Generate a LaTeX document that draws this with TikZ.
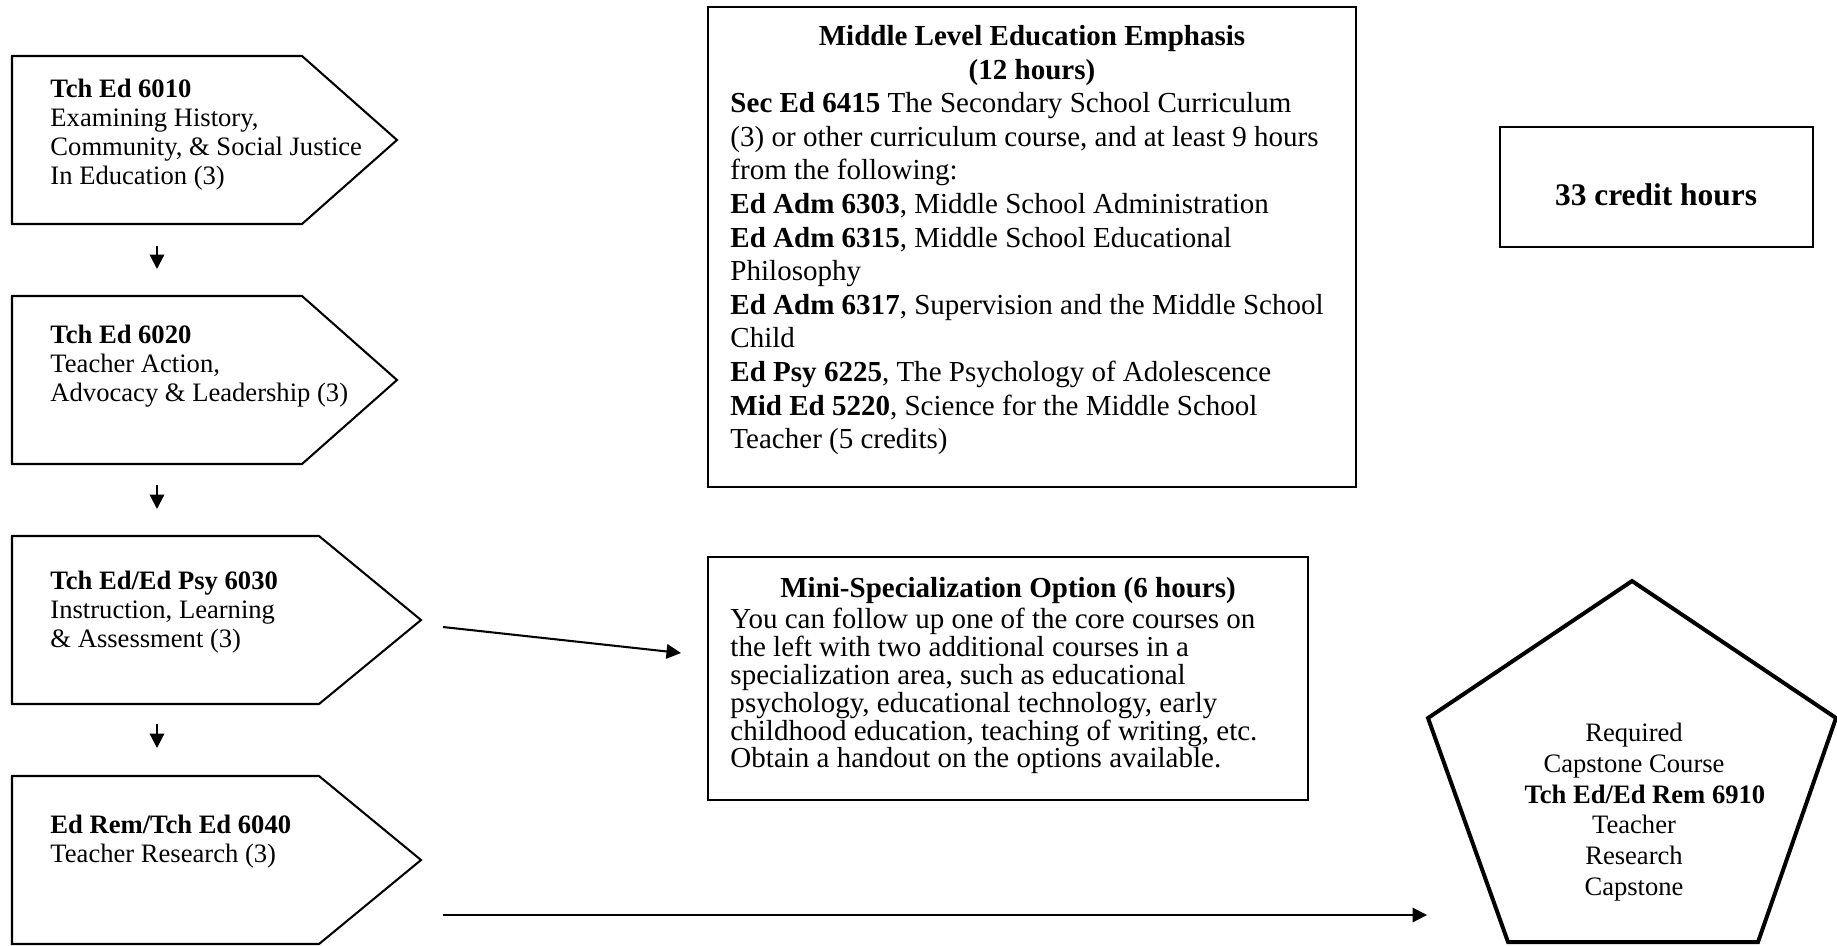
\documentclass[tikz,border=0pt]{standalone}
\usepackage{fontspec}
\setmainfont{Liberation Serif}
\usetikzlibrary{arrows.meta}
\begin{document}
\begin{tikzpicture}[x=0.4136pt, y=-0.4136pt,
  boxline/.style={draw=black, line width=0.85pt},
  pentline/.style={draw=black, line width=1.65pt, line join=miter},
  arr/.style={draw=black, line width=0.85pt, -{Triangle[length=6pt, width=6pt]}},
  lefttext/.style={anchor=north west, inner sep=0pt, align=left, font=\fontsize{11pt}{11.9pt}\selectfont},
  midtitle/.style={anchor=north, inner sep=0pt, align=center, font=\fontsize{12pt}{13.9pt}\selectfont\bfseries},
  midbody/.style={anchor=north west, inner sep=0pt, align=left, font=\fontsize{12pt}{13.9pt}\selectfont},
  minititle/.style={anchor=north, inner sep=0pt, align=center, font=\fontsize{12pt}{13pt}\selectfont\bfseries},
  minibody/.style={anchor=north west, inner sep=0pt, align=left, font=\fontsize{12pt}{11.5pt}\selectfont},
  penttext/.style={anchor=north, inner sep=0pt, align=center, font=\fontsize{11pt}{12.66pt}\selectfont},
  rectbox/.style={boxline, inner sep=0pt, fill=none}
]
\useasboundingbox (0,0) rectangle (1837,945);

% ---- left column: course shapes ----
\draw[boxline] (12,56) -- (302,56) -- (397,140) -- (302,224) -- (12,224) -- cycle;
\draw[boxline] (12,296) -- (302,296) -- (397,380) -- (302,464) -- (12,464) -- cycle;
\draw[boxline] (12,536) -- (319,536) -- (421,620) -- (319,704) -- (12,704) -- cycle;
\draw[boxline] (12,776) -- (319,776) -- (421,860) -- (319,944) -- (12,944) -- cycle;

\node[lefttext] (t1) at (50,79) {\textbf{Tch Ed 6010}\\Examining History,\\Community, \& Social Justice\\In Education (3)};
\node[lefttext] (t2) at (50,325) {\textbf{Tch Ed 6020}\\Teacher Action,\\Advocacy \& Leadership (3)};
\node[lefttext] (t3) at (50,571) {\textbf{Tch Ed/Ed Psy 6030}\\Instruction, Learning\\\& Assessment (3)};
\node[lefttext] (t4) at (50,815) {\textbf{Ed Rem/Tch Ed 6040}\\Teacher Research (3)};

% ---- middle level box ----
\node[rectbox, minimum width=268.0pt, minimum height=198.5pt] (mid) at (1032,247) {};
\node[midtitle] (midt) at (1032,25) {Middle Level Education Emphasis\\(12 hours)};
\node[midbody] (midb) at (730,92) {\textbf{Sec Ed 6415} The Secondary School Curriculum\\
(3) or other curriculum course, and at least 9 hours\\
from the following:\\
\textbf{Ed Adm 6303}, Middle School Administration\\
\textbf{Ed Adm 6315}, Middle School Educational\\
Philosophy\\
\textbf{Ed Adm 6317}, Supervision and the Middle School\\
Child\\
\textbf{Ed Psy 6225}, The Psychology of Adolescence\\
\textbf{Mid Ed 5220}, Science for the Middle School\\
Teacher (5 credits)};

% ---- credit hours box ----
\node[rectbox, minimum width=129.5pt, minimum height=49.6pt] (cred) at (1656.5,187) {};
\node[anchor=base, inner sep=0pt, font=\fontsize{13pt}{15pt}\selectfont\bfseries] (credt) at (1656,205) {33 credit hours};

% ---- mini specialization box ----
\node[rectbox, minimum width=248.2pt, minimum height=100.5pt] (mini) at (1008,678.5) {};
\node[minititle] (minit) at (1008,577) {Mini-Specialization Option (6 hours)};
\node[minibody] (minib) at (730,608) {You can follow up one of the core courses on\\
the left with two additional courses in a\\
specialization area, such as educational\\
psychology, educational technology, early\\
childhood education, teaching of writing, etc.\\
Obtain a handout on the options available.};

% ---- capstone pentagon ----
\coordinate (p1) at (1632,581);
\coordinate (p2) at (1836,718);
\coordinate (p3) at (1758,942);
\coordinate (p4) at (1508,942);
\coordinate (p5) at (1428,718);
\draw[pentline] (p1) -- (p2) -- (p3) -- (p4) -- (p5) -- cycle;
\node[penttext] (capt) at (1634,723) {Required\\Capstone Course\\\hspace*{9pt}\textbf{Tch Ed/Ed Rem 6910}\\Teacher\\Research\\Capstone};

% ---- connectors ----
\coordinate (d1s) at (157,246); \coordinate (d1e) at (157,269);
\coordinate (d2s) at (157,485); \coordinate (d2e) at (157,509);
\coordinate (d3s) at (157,724); \coordinate (d3e) at (157,748);
\coordinate (ms) at (443,627);  \coordinate (me) at (681,653);
\coordinate (cs) at (443,915);  \coordinate (ce) at (1427,915);
\draw[arr] (d1s) -- (d1e);
\draw[arr] (d2s) -- (d2e);
\draw[arr] (d3s) -- (d3e);
\draw[arr] (ms) -- (me);
\draw[arr] (cs) -- (ce);
\end{tikzpicture}
\end{document}
